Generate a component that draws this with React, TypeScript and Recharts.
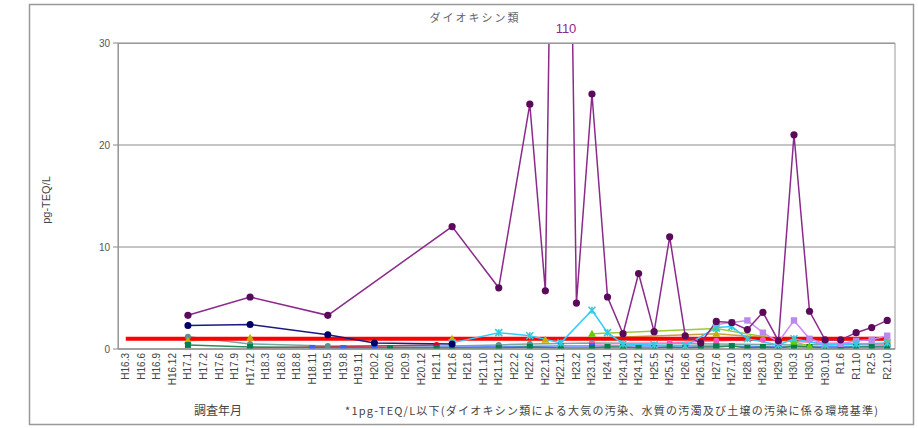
import React from "react";
import { LineChart, Line, XAxis, YAxis, CartesianGrid } from "recharts";

const _ = null;

const categories = [
  "H16.3", "H16.6", "H16.9", "H16.12", "H17.1", "H17.2", "H17.6", "H17.9", "H17.12", "H18.3",
  "H18.6", "H18.8", "H18.11", "H19.5", "H19.8", "H19.11", "H20.2", "H20.6", "H20.9", "H20.12",
  "H21.1", "H21.6", "H21.8", "H21.10", "H21.12", "H22.2", "H22.6", "H22.10", "H22.11", "H23.2",
  "H23.10", "H24.1", "H24.10", "H24.12", "H25.5", "H25.12", "H26.6", "H26.10", "H27.6", "H27.10",
  "H28.3", "H28.10", "H29.0", "H30.3", "H30.5", "H30.10", "R1.6", "R1.10", "R2.5", "R2.10",
];

// index:        0  1  2  3  4    5  6  7  8    9  10 11 12 13   14 15 16 17 18 19 20 21  22 23 24   25 26  27   28   29   30  31   32   33   34   35  36   37   38   39   40   41   42   43  44   45   46   47   48   49
const sitePurple = [_, _, _, _, 3.3, _, _, _, 5.1, _, _, _, _, 3.3, _, _, _, _, _, _, _, 12, _, _, 6.0, _, 24, 5.7, 110, 4.5, 25, 5.1, 1.5, 7.4, 1.7, 11, 1.3, 0.6, 2.7, 2.6, 1.9, 3.6, 0.8, 21, 3.7, 0.9, 0.9, 1.6, 2.1, 2.8];
const siteNavy = [_, _, _, _, 2.3, _, _, _, 2.4, _, _, _, _, 1.4, _, _, 0.6, _, _, _, _, 0.5, _, _, _, _, _, _, _, _, _, _, _, _, _, _, _, _, _, _, _, _, _, _, _, _, _, _, _, _];
const siteCyan = [_, _, _, _, _, _, _, _, _, _, _, _, _, _, _, _, _, _, _, _, _, 0.6, _, _, 1.6, _, 1.3, _, 0.6, _, 3.8, 1.6, 0.5, _, 0.4, _, 0.3, _, 2.1, 2.2, 1.0, _, 0.4, 1.0, _, 0.4, _, 0.5, _, 0.6];
const siteLavender = [_, _, _, _, _, _, _, _, _, _, _, _, _, _, _, _, _, _, _, _, _, _, _, _, _, _, _, _, _, _, _, _, _, _, _, _, _, _, 2.4, 2.6, 2.8, 1.6, 0.7, 2.8, 1.0, 0.5, 0.5, 0.8, 0.9, 1.3];
const siteLime = [_, _, _, _, _, _, _, _, _, _, _, _, _, _, _, _, _, _, _, _, _, _, _, _, _, _, _, _, _, _, 1.5, _, _, _, _, _, _, _, 2.0, _, _, _, _, 0.7, 0.3, _, _, _, _, _];
const siteGold = [_, _, _, _, 0.8, _, _, _, 1.1, _, _, _, _, _, _, _, _, _, _, _, _, 1.0, _, _, _, _, _, 0.9, _, _, _, _, _, _, _, _, _, _, 1.5, _, _, _, _, 0.9, _, _, _, _, _, 0.9];
const siteTeal = [_, _, _, _, 1.2, _, _, _, 0.5, _, _, _, _, 0.3, _, _, _, _, _, _, _, 0.3, _, _, 0.4, _, 0.5, _, _, _, 0.6, _, _, _, _, _, _, _, 0.5, _, _, _, _, 0.4, _, _, _, _, _, 0.5];
const siteGreen = [_, _, _, _, 0.4, _, _, _, 0.2, _, _, _, _, _, _, _, _, 0.1, _, _, 0.1, 0.1, _, _, 0.1, _, 0.2, _, 0.1, _, 0.1, 0.2, 0.2, 0.1, 0.1, 0.2, 0.1, 0.2, 0.2, 0.3, 0.1, 0.2, 0.1, 0.3, 0.2, 0.1, 0.1, 0.2, 0.2, 0.2];
const siteBlue = [_, _, _, _, _, _, _, _, _, _, _, _, 0.1, _, 0.1, _, 0.1, _, _, _, _, _, _, _, _, _, _, _, 0.3, _, 0.3, _, _, _, _, _, _, _, 0.3, _, _, _, _, 0.2, _, _, _, _, _, 0.3];
const siteCrimson = [_, _, _, _, _, _, _, _, 0.1, _, _, _, _, _, _, _, _, _, _, _, 0.4, _, _, _, _, _, _, _, _, _, _, _, _, _, _, _, _, _, _, _, _, _, _, _, _, _, _, _, _, _];
const sitePink = [_, _, _, _, _, _, _, _, _, _, _, _, _, _, _, _, _, _, _, _, _, _, _, _, _, _, _, _, _, _, 0.5, _, _, _, _, 0.6, _, _, 0.8, _, _, 0.9, _, _, _, 0.6, _, _, _, 0.5];
const STANDARD = 1;

const yTicks = [0, 10, 20, 30];
const OVERFLOW_LABEL = "110";

const rows = categories.map((c, i) => ({
  cat: c,
  purple: sitePurple[i],
  navy: siteNavy[i],
  cyan: siteCyan[i],
  lavender: siteLavender[i],
  lime: siteLime[i],
  gold: siteGold[i],
  teal: siteTeal[i],
  green: siteGreen[i],
  blue: siteBlue[i],
  crimson: siteCrimson[i],
  pink: sitePink[i],
  std: STANDARD,
}));

type Shape = "circle" | "square" | "x" | "triangle";

const makeDot = (shape: Shape, fill: string, r: number) => (props: any) => {
  const { cx, cy, value, index } = props;
  if (value == null || cx == null || cy == null) return <g key={`e${index}`} />;
  if (shape === "square")
    return <rect key={`d${index}`} x={cx - r} y={cy - r} width={2 * r} height={2 * r} fill={fill} />;
  if (shape === "triangle")
    return (
      <polygon key={`d${index}`} points={`${cx},${cy - r - 1} ${cx - r - 1},${cy + r} ${cx + r + 1},${cy + r}`} fill={fill} />
    );
  if (shape === "x")
    return (
      <g key={`d${index}`} stroke={fill} strokeWidth={1.6}>
        <line x1={cx - r} y1={cy - r} x2={cx + r} y2={cy + r} />
        <line x1={cx - r} y1={cy + r} x2={cx + r} y2={cy - r} />
        <line x1={cx} y1={cy - r} x2={cx} y2={cy + r} />
      </g>
    );
  return <circle key={`d${index}`} cx={cx} cy={cy} r={r} fill={fill} />;
};

const XTick = (props: any) => {
  const { x, y, payload } = props;
  const ty = y - 4;
  return (
    <text
      x={x}
      y={ty}
      transform={`rotate(-90, ${x}, ${ty})`}
      textAnchor="end"
      dy="0.35em"
      fontSize={10}
      fill="#444"
      fontFamily="'Liberation Sans', Arial, sans-serif"
    >
      {payload.value}
    </text>
  );
};

const lowSeries: { key: string; color: string; dotColor: string; shape: Shape }[] = [
  { key: "teal", color: "#7aa5a5", dotColor: "#5f8f8f", shape: "circle" },
  { key: "gold", color: "#c8a040", dotColor: "#c8b000", shape: "triangle" },
  { key: "pink", color: "#ff77cc", dotColor: "#ff55bb", shape: "circle" },
  { key: "crimson", color: "#cc3355", dotColor: "#cc0033", shape: "circle" },
  { key: "blue", color: "#6688ff", dotColor: "#3366ff", shape: "square" },
  { key: "green", color: "#2e8b57", dotColor: "#00804d", shape: "square" },
  { key: "lime", color: "#99cc33", dotColor: "#66cc00", shape: "triangle" },
];

export default function App() {
  const cjk = "'Noto Sans CJK JP', 'Noto Sans', sans-serif";
  return (
    <div style={{ position: "absolute", left: 0, top: 0, width: 918, height: 428, background: "#fff" }}>
      <LineChart
        width={918}
        height={428}
        data={rows}
        margin={{ top: 43, right: 23, bottom: 29, left: 78 }}
      >
        <CartesianGrid vertical={false} stroke="#8a8a8a" strokeWidth={1} />
        <XAxis
          dataKey="cat"
          interval={0}
          height={50}
          padding={{ left: 7.77, right: 7.77 }}
          tick={<XTick />}
          tickLine={false}
          axisLine={{ stroke: "#888" }}
        />
        <YAxis
          domain={[0, 30]}
          ticks={yTicks}
          allowDataOverflow
          width={40}
          tickSize={5}
          tickMargin={3}
          tick={{ fontSize: 10, fill: "#555", fontFamily: "'Liberation Sans', Arial, sans-serif" }}
          axisLine={{ stroke: "#888" }}
          tickLine={{ stroke: "#888" }}
        />
        {lowSeries.map((s) => (
          <Line
            key={s.key}
            dataKey={s.key}
            stroke={s.color}
            strokeWidth={1.5}
            connectNulls
            isAnimationActive={false}
            dot={makeDot(s.shape, s.dotColor, 3)}
            activeDot={false}
          />
        ))}
        <Line
          dataKey="std"
          stroke="#ff0000"
          strokeWidth={4}
          dot={false}
          activeDot={false}
          isAnimationActive={false}
        />
        <Line
          dataKey="lavender"
          stroke="#cc88ff"
          strokeWidth={1.5}
          connectNulls
          isAnimationActive={false}
          dot={makeDot("square", "#bb88ee", 3.2)}
          activeDot={false}
        />
        <Line
          dataKey="cyan"
          stroke="#33ccff"
          strokeWidth={1.5}
          connectNulls
          isAnimationActive={false}
          dot={makeDot("x", "#33ccdd", 3.5)}
          activeDot={false}
        />
        <Line
          dataKey="navy"
          stroke="#1a1a80"
          strokeWidth={1.5}
          connectNulls
          isAnimationActive={false}
          dot={makeDot("circle", "#000066", 3.5)}
          activeDot={false}
        />
        <Line
          dataKey="purple"
          stroke="#8b2a8b"
          strokeWidth={1.5}
          connectNulls
          isAnimationActive={false}
          dot={makeDot("circle", "#5a0a5a", 3.6)}
          activeDot={false}
        />
      </LineChart>
      <svg
        width={918}
        height={428}
        style={{ position: "absolute", left: 0, top: 0, pointerEvents: "none" }}
      >
        <rect x={29.5} y={4.5} width={884} height={420} fill="none" stroke="#999" strokeWidth={1.5} />
        <rect x={118.5} y={43.5} width={776.5} height={305.5} fill="none" stroke="#999" strokeWidth={1} />
        <text x={475} y={22} textAnchor="middle" fontSize={11} letterSpacing={2} fill="#666" fontFamily={cjk}>
          ダイオキシン類
        </text>
        <text x={566} y={33} textAnchor="middle" fontSize={13} fill="#8b2a8b" fontFamily="'Liberation Sans', Arial, sans-serif">
          {OVERFLOW_LABEL}
        </text>
        <text
          x={46}
          y={200}
          transform="rotate(-90, 46, 200)"
          textAnchor="middle"
          dy="0.35em"
          fontSize={11}
          fill="#444"
          fontFamily="'Liberation Sans', Arial, sans-serif"
        >
          pg-TEQ/L
        </text>
        <text x={218} y={415} textAnchor="middle" fontSize={12} fill="#444" fontFamily={cjk}>
          調査年月
        </text>
        <text x={345} y={415} fontSize={11} fill="#444" fontFamily={cjk} textLength={533} lengthAdjust="spacing">
          *1pg-TEQ/L以下(ダイオキシン類による大気の汚染、水質の汚濁及び土壌の汚染に係る環境基準)
        </text>
      </svg>
    </div>
  );
}
